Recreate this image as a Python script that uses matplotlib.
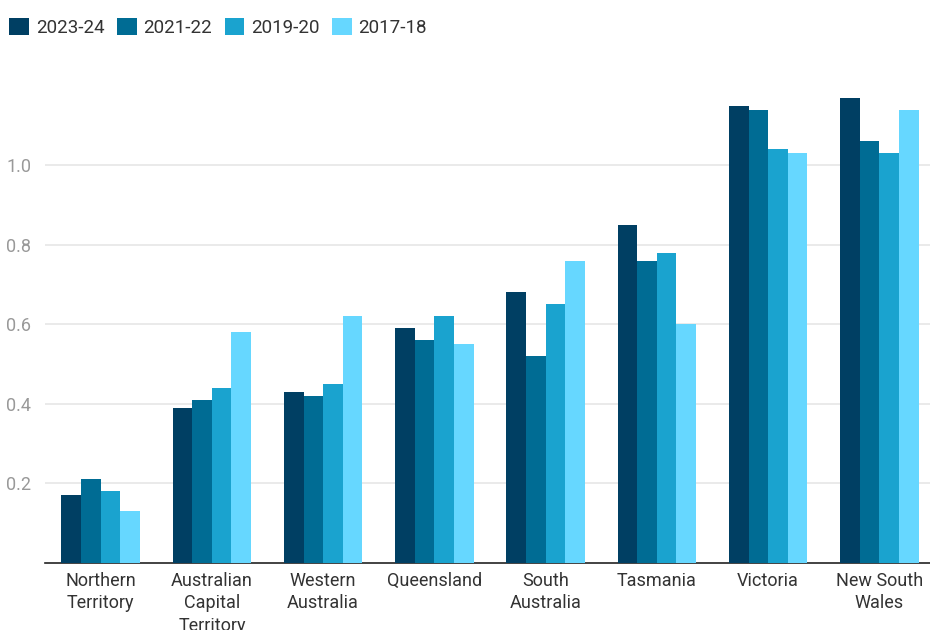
import numpy as np
import matplotlib
matplotlib.use("Agg")
import matplotlib.pyplot as plt
from matplotlib.patches import Patch

plt.rcParams["font.family"] = ["Roboto", "DejaVu Sans"]

regions = ["Northern\nTerritory", "Australian\nCapital\nTerritory", "Western\nAustralia",
           "Queensland", "South\nAustralia", "Tasmania", "Victoria", "New South\nWales"]
series = ["2023-24", "2021-22", "2019-20", "2017-18"]
v_2023 = [0.17, 0.39, 0.43, 0.59, 0.68, 0.85, 1.15, 1.17]
v_2021 = [0.21, 0.41, 0.42, 0.56, 0.52, 0.76, 1.14, 1.06]
v_2019 = [0.18, 0.44, 0.45, 0.62, 0.65, 0.78, 1.04, 1.03]
v_2017 = [0.13, 0.58, 0.62, 0.55, 0.76, 0.60, 1.03, 1.14]
colors = ["#003f63", "#006c94", "#1aa3cf", "#66d7ff"]

fig = plt.figure(figsize=(9.3, 6.3), dpi=100)
ax = fig.add_axes([45 / 930, 1 - 562.5 / 630, 890 / 930, (562.5 - 66) / 630])

x = np.arange(len(regions))
w = 0.176
for i, (vals, c) in enumerate(zip([v_2023, v_2021, v_2019, v_2017], colors)):
    ax.bar(x + (i - 1.5) * w, vals, width=w, color=c, zorder=3)

ax.set_xlim(-0.5, len(regions) - 0.5)
ax.set_ylim(0, 1.25)
ax.set_yticks([0.2, 0.4, 0.6, 0.8, 1.0])
ax.set_yticklabels(["0.2", "0.4", "0.6", "0.8", "1.0"])
ax.set_xticks(x)
ax.set_xticklabels(regions, linespacing=1.3)
ax.grid(axis="y", color="#e6e6e6", linewidth=1.2, zorder=0)
for s in ["top", "right", "left"]:
    ax.spines[s].set_visible(False)
ax.spines["bottom"].set_color("#222222")
ax.spines["bottom"].set_linewidth(1.2)
ax.tick_params(axis="y", length=0, pad=10, labelsize=13, labelcolor="#999999")
ax.tick_params(axis="x", length=0, pad=7, labelsize=13, labelcolor="#333333")

handles = [Patch(facecolor=c, label=s) for s, c in zip(series, colors)]
fig.legend(handles=handles, loc="upper left", bbox_to_anchor=(-0.002, 0.99), ncol=4,
           frameon=False, prop={"size": 13.5}, labelcolor="#333333", handlelength=1.05,
           handleheight=1.05, handletextpad=0.35, columnspacing=0.68, borderaxespad=0.2,
           borderpad=0.4)

fig.savefig("out.png", dpi=100)
